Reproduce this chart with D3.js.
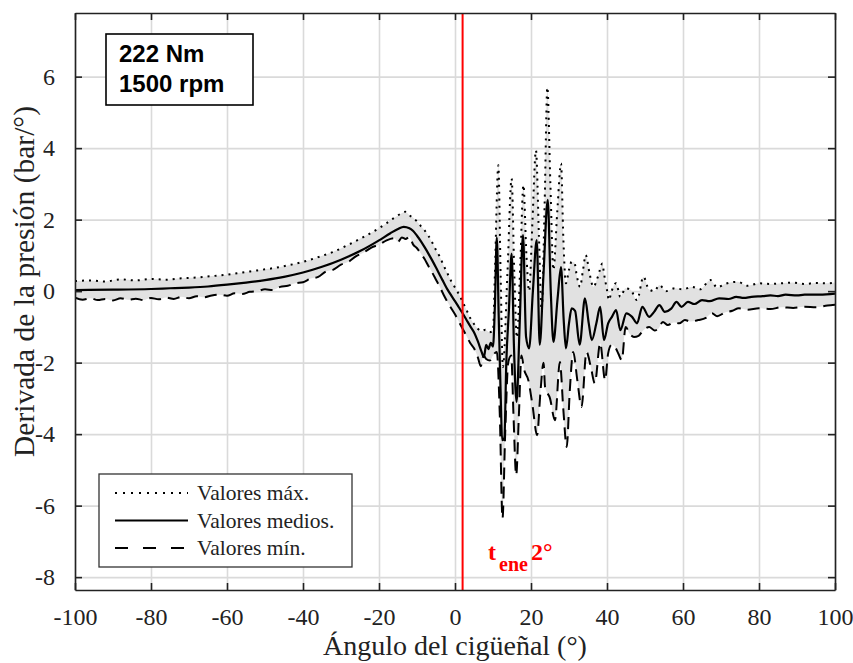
<!DOCTYPE html>
<html>
<head>
<meta charset="utf-8">
<script src="https://cdn.jsdelivr.net/npm/d3@7"></script>
<style>
  html, body { margin: 0; padding: 0; background: #fff; }
  svg { display: block; }
</style>
</head>
<body>
<svg id="chart" width="853" height="663"></svg>
<script>
// ---------------- DATA ----------------
const xTicks = [-100, -80, -60, -40, -20, 0, 20, 40, 60, 80, 100];
const yTicks = [-8, -6, -4, -2, 0, 2, 4, 6];
const xDomain = [-100, 100];
const yDomain = [-8.36, 7.78];
const tEneAngle = 2;

const meanAngles = [-100,-90,-80,-75,-70,-65,-60,-55,-50,-45,-40,-35,-30,-25,-20,-17,-15,-13.5,-12,-11,-10,-9,-8,-7,-6,-5,-4,-3,-2,-1,0,1,2,3,4,5,6,7,7.6,8.2,8.8,9.4,10,10.5,11,11.5,12,12.4,13,13.5,14.2,14.9,15.5,16.2,17,17.9,18.7,19.5,20.5,21.5,22.3,23.3,24.4,25.2,25.9,27,27.9,28.6,29.2,30,30.7,31.6,32.8,34.2,35.2,36,37.2,38.2,39.2,40.3,41.3,42.4,43.5,45.1,46.6,47.9,49.3,51.1,52.4,53.8,55.2,56.9,58.3,59.6,61.3,63,65,67,69.5,72,74,76,78,81,83,85,87,90,92,96,100];
const meanValues = [0.03,0.04,0.06,0.08,0.10,0.13,0.18,0.24,0.31,0.40,0.52,0.68,0.88,1.12,1.42,1.62,1.74,1.80,1.76,1.68,1.55,1.40,1.23,1.05,0.86,0.66,0.45,0.25,0.05,-0.12,-0.28,-0.45,-0.62,-0.80,-0.98,-1.15,-1.40,-1.70,-1.85,-1.50,-1.62,-1.45,-1.55,-0.40,1.50,-0.70,-2.80,-4.17,-4.10,-2.00,-0.50,1.05,-1.50,-3.10,-1.00,1.57,-1.28,-1.60,0.00,1.43,-1.50,0.50,2.55,0.00,-1.42,-0.20,0.67,-0.80,-1.60,-0.90,-0.48,-0.55,-1.50,-0.20,-0.90,-1.37,-0.90,-0.44,-1.37,-0.90,-0.72,-0.53,-1.09,-0.62,-0.72,-0.90,-0.44,-0.72,-0.58,-0.39,-0.58,-0.49,-0.30,-0.44,-0.30,-0.36,-0.25,-0.28,-0.20,-0.22,-0.16,-0.19,-0.16,-0.14,-0.12,-0.14,-0.10,-0.12,-0.10,-0.10,-0.07];

const maxAngles = [-100,-96,-92,-88,-84,-80,-76,-72,-68,-64,-60,-56,-52,-48,-44,-40,-36,-32,-28,-24,-20,-18,-16,-14,-13,-12,-11,-10,-9,-8,-7,-6,-5,-4,-3,-2,-1,0,1,2,3,4,5,6,7,8,9,10,10.5,11.4,12,12.6,13.8,14.9,15.6,16.3,17.2,18,18.8,19.5,20.4,21.3,22.1,22.8,23.6,24.3,25.1,25.9,26.9,27.9,28.5,29.2,30,30.7,31.4,32.1,32.9,33.7,34.4,35.4,36.4,37.6,38.8,39.2,40,40.5,41.2,42.4,43.5,44.9,46.2,47.9,49.6,51,52.5,53.8,55.5,57.9,60,62.4,64.5,67.2,69,71,74.4,77,80,83,86,89,92,95,98,100];
const maxValues = [0.28,0.30,0.27,0.33,0.30,0.34,0.32,0.36,0.38,0.42,0.46,0.52,0.58,0.64,0.72,0.82,0.95,1.10,1.30,1.52,1.76,1.90,2.05,2.18,2.22,2.12,2.05,1.95,1.82,1.70,1.55,1.36,1.15,0.96,0.72,0.50,0.28,0.10,-0.08,-0.30,-0.52,-0.75,-0.92,-1.05,-1.12,-1.08,-1.15,-1.12,0.50,3.52,0.50,-2.12,0.50,3.15,0.50,-1.30,0.80,2.97,1.00,0.00,2.00,3.94,1.50,-0.53,2.50,5.70,3.00,0.59,2.20,3.57,1.50,0.22,0.60,0.82,0.80,0.40,0.12,0.60,1.01,0.50,0.12,0.40,0.77,0.50,0.03,-0.25,0.00,0.22,-0.16,0.08,0.04,-0.25,0.40,0.05,0.00,0.17,0.00,0.08,0.05,0.12,0.05,0.31,0.10,0.20,0.26,0.15,0.22,0.20,0.22,0.24,0.20,0.23,0.22,0.24];

const minAngles = [-100,-98,-96,-94,-92,-90,-88,-86,-84,-82,-80,-78,-76,-74,-72,-70,-68,-66,-64,-62,-60,-58,-56,-54,-52,-50,-48,-46,-44,-42,-40,-38,-36,-34,-32,-30,-28,-26,-24,-22,-20,-18,-16,-15,-14,-13,-12,-11,-10,-9,-8,-7,-6,-5,-4,-3,-2,-1,0,1,2,3,4,5,6,6.8,7.5,8.2,9.2,10,11,11.8,12.5,13.2,14,14.8,15.4,16.1,16.8,17.5,18.2,19.3,20.4,21.6,22.5,23.3,23.7,25,26.3,27.6,28.5,29.4,30.2,31.1,32.2,33.3,34.6,35.7,36.8,38.2,39.5,40.3,41.2,42.1,43,43.9,44.9,46,47.1,48.3,49.5,51.1,52.5,53.5,54.7,56,57.5,59,60.5,62,64,66,67.6,69,71,73,74.7,77,80,83,86,89,92,95,98,100];
const minValues = [-0.18,-0.24,-0.20,-0.25,-0.22,-0.26,-0.20,-0.24,-0.21,-0.25,-0.19,-0.23,-0.18,-0.22,-0.16,-0.20,-0.14,-0.17,-0.12,-0.10,-0.13,-0.06,-0.08,-0.02,0.00,0.05,0.03,0.12,0.15,0.22,0.25,0.35,0.40,0.55,0.60,0.74,0.82,0.98,1.08,1.22,1.30,1.42,1.48,1.38,1.50,1.46,1.52,1.30,1.20,1.05,0.90,0.70,0.52,0.32,0.12,-0.10,-0.30,-0.48,-0.65,-0.85,-1.05,-1.25,-1.45,-1.60,-1.85,-2.10,-1.80,-1.90,-1.94,-1.80,-1.70,-3.50,-6.36,-4.00,-2.00,-1.80,-3.50,-5.15,-3.50,-1.80,-2.20,-2.49,-3.20,-4.03,-2.80,-2.00,-2.68,-3.00,-3.61,-1.98,-3.30,-4.36,-2.80,-1.70,-2.50,-3.24,-1.70,-2.10,-2.58,-1.46,-2.49,-1.74,-1.50,-1.56,-1.75,-1.93,-1.00,-1.20,-1.28,-1.25,-1.10,-1.00,-1.10,-1.05,-0.86,-0.95,-0.88,-0.90,-0.81,-0.85,-0.81,-0.75,-0.62,-0.70,-0.60,-0.55,-0.48,-0.52,-0.48,-0.50,-0.45,-0.47,-0.44,-0.45,-0.40,-0.38];

const legendLabels = ["Valores máx.", "Valores medios.", "Valores mín."];
const boxLines = ["222 Nm", "1500 rpm"];

// ---------------- LAYOUT ----------------
const plot = { left: 75, right: 835, top: 13, bottom: 590 };
const serif = "'Liberation Serif', 'Times New Roman', Times, serif";
const sans = "'Liberation Sans', Arial, Helvetica, sans-serif";

const svg = d3.select("#chart");
const x = d3.scaleLinear().domain(xDomain).range([plot.left, plot.right]);
const y = d3.scaleLinear().domain(yDomain).range([plot.bottom, plot.top]);
const W = plot.right - plot.left, H = plot.bottom - plot.top;

const toPts = (a, v) => a.map((d, i) => [d, v[i]]);
const meanPts = toPts(meanAngles, meanValues);
const maxPts = toPts(maxAngles, maxValues);
const minPts = toPts(minAngles, minValues);

const defs = svg.append("defs");
defs.append("clipPath").attr("id", "plotClip").append("rect")
  .attr("x", plot.left).attr("y", plot.top).attr("width", W).attr("height", H);

// grid
const grid = svg.append("g");
grid.append("g").attr("transform", `translate(0,${plot.bottom})`)
  .call(d3.axisBottom(x).tickValues(xTicks).tickSize(-H).tickFormat(""))
  .call(g => g.select(".domain").remove())
  .call(g => g.selectAll("line").attr("stroke", "#dadada").attr("stroke-width", 1.6));
grid.append("g").attr("transform", `translate(${plot.left},0)`)
  .call(d3.axisLeft(y).tickValues(yTicks).tickSize(-W).tickFormat(""))
  .call(g => g.select(".domain").remove())
  .call(g => g.selectAll("line").attr("stroke", "#dadada").attr("stroke-width", 1.6));

// band between max and min
const curve = d3.curveMonotoneX;
defs.append("clipPath").attr("id", "aboveMin").append("path")
  .attr("d", d3.area().x(d => x(d[0])).y0(plot.top - 5).y1(d => y(d[1])).curve(curve)(minPts));
const gBand = svg.append("g").attr("clip-path", "url(#plotClip)");
gBand.append("path")
  .attr("clip-path", "url(#aboveMin)")
  .attr("d", d3.area().x(d => x(d[0])).y0(plot.bottom + 5).y1(d => y(d[1])).curve(curve)(maxPts))
  .attr("fill", "#e1e1e1");

// lines
const line = d3.line().x(d => x(d[0])).y(d => y(d[1])).curve(curve);
const gLines = svg.append("g").attr("clip-path", "url(#plotClip)");
gLines.append("path").attr("d", line(minPts)).attr("fill", "none")
  .attr("stroke", "#000").attr("stroke-width", 2).attr("stroke-dasharray", "12,7");
gLines.append("path").attr("d", line(maxPts)).attr("fill", "none")
  .attr("stroke", "#000").attr("stroke-width", 2).attr("stroke-dasharray", "2,5");
gLines.append("path").attr("d", line(meanPts)).attr("fill", "none")
  .attr("stroke", "#000").attr("stroke-width", 2.2);

// red vertical line
svg.append("line")
  .attr("x1", x(tEneAngle)).attr("x2", x(tEneAngle))
  .attr("y1", plot.top).attr("y2", plot.bottom)
  .attr("stroke", "#ff0000").attr("stroke-width", 2);

// axes (ticks inward on all four sides)
const tickLen = 7;
const fmt = d => String(d).replace("−", "-");
const axB = svg.append("g").attr("transform", `translate(0,${plot.bottom})`)
  .call(d3.axisBottom(x).tickValues(xTicks).tickSizeInner(-tickLen).tickSizeOuter(0).tickPadding(18).tickFormat(fmt));
const axT = svg.append("g").attr("transform", `translate(0,${plot.top})`)
  .call(d3.axisTop(x).tickValues(xTicks).tickSizeInner(-tickLen).tickSizeOuter(0).tickFormat(""));
const axL = svg.append("g").attr("transform", `translate(${plot.left},0)`)
  .call(d3.axisLeft(y).tickValues(yTicks).tickSizeInner(-tickLen).tickSizeOuter(0).tickPadding(20).tickFormat(fmt));
const axR = svg.append("g").attr("transform", `translate(${plot.right},0)`)
  .call(d3.axisRight(y).tickValues(yTicks).tickSizeInner(-tickLen).tickSizeOuter(0).tickFormat(""));
[axB, axT, axL, axR].forEach(a => {
  a.selectAll(".domain").attr("stroke", "#222").attr("stroke-width", 1.6);
  a.selectAll(".tick line").attr("stroke", "#222").attr("stroke-width", 1.6);
  a.selectAll("text").attr("font-family", serif).attr("font-size", 24).attr("fill", "#222");
});

// axis titles
svg.append("text")
  .attr("x", (plot.left + plot.right) / 2).attr("y", 655)
  .attr("text-anchor", "middle").attr("font-family", serif).attr("font-size", 28).attr("fill", "#222")
  .text("Ángulo del cigüeñal (°)");
svg.append("text")
  .attr("transform", `translate(34,${(plot.top + plot.bottom) / 2 - 20}) rotate(-90)`)
  .attr("text-anchor", "middle").attr("font-family", serif).attr("font-size", 29.5).attr("fill", "#222")
  .text("Derivada de la presión (bar/°)");

// info box
const ib = svg.append("g");
ib.append("rect").attr("x", 106).attr("y", 34).attr("width", 147).attr("height", 71)
  .attr("fill", "#fff").attr("stroke", "#000").attr("stroke-width", 1.6);
boxLines.forEach((t, i) => {
  ib.append("text").attr("x", 119).attr("y", 62 + i * 30)
    .attr("font-family", sans).attr("font-weight", "bold").attr("font-size", 24).attr("fill", "#000")
    .text(t);
});

// legend
const lg = svg.append("g");
lg.append("rect").attr("x", 99).attr("y", 474).attr("width", 253).attr("height", 93)
  .attr("fill", "#fff").attr("stroke", "#333").attr("stroke-width", 1.3);
const legendDash = ["2,6", null, "13,15"];
legendLabels.forEach((t, i) => {
  const cy = 493 + i * 27.5;
  const ln = lg.append("line").attr("x1", 115).attr("x2", 188).attr("y1", cy).attr("y2", cy)
    .attr("stroke", "#000").attr("stroke-width", 2);
  if (legendDash[i]) ln.attr("stroke-dasharray", legendDash[i]);
  lg.append("text").attr("x", 197).attr("y", cy + 7)
    .attr("font-family", serif).attr("font-size", 21.5).attr("fill", "#222").text(t);
});

// t_ene label
const tl = svg.append("text").attr("x", 488).attr("y", 560)
  .attr("font-family", serif).attr("font-weight", "bold").attr("fill", "#ff0000").attr("font-size", 24);
tl.append("tspan").text("t");
tl.append("tspan").attr("font-size", 20).attr("dy", 11).attr("dx", 3).text("ene");
tl.append("tspan").attr("dy", -11).attr("dx", 3).text("2°");
</script>
</body>
</html>
